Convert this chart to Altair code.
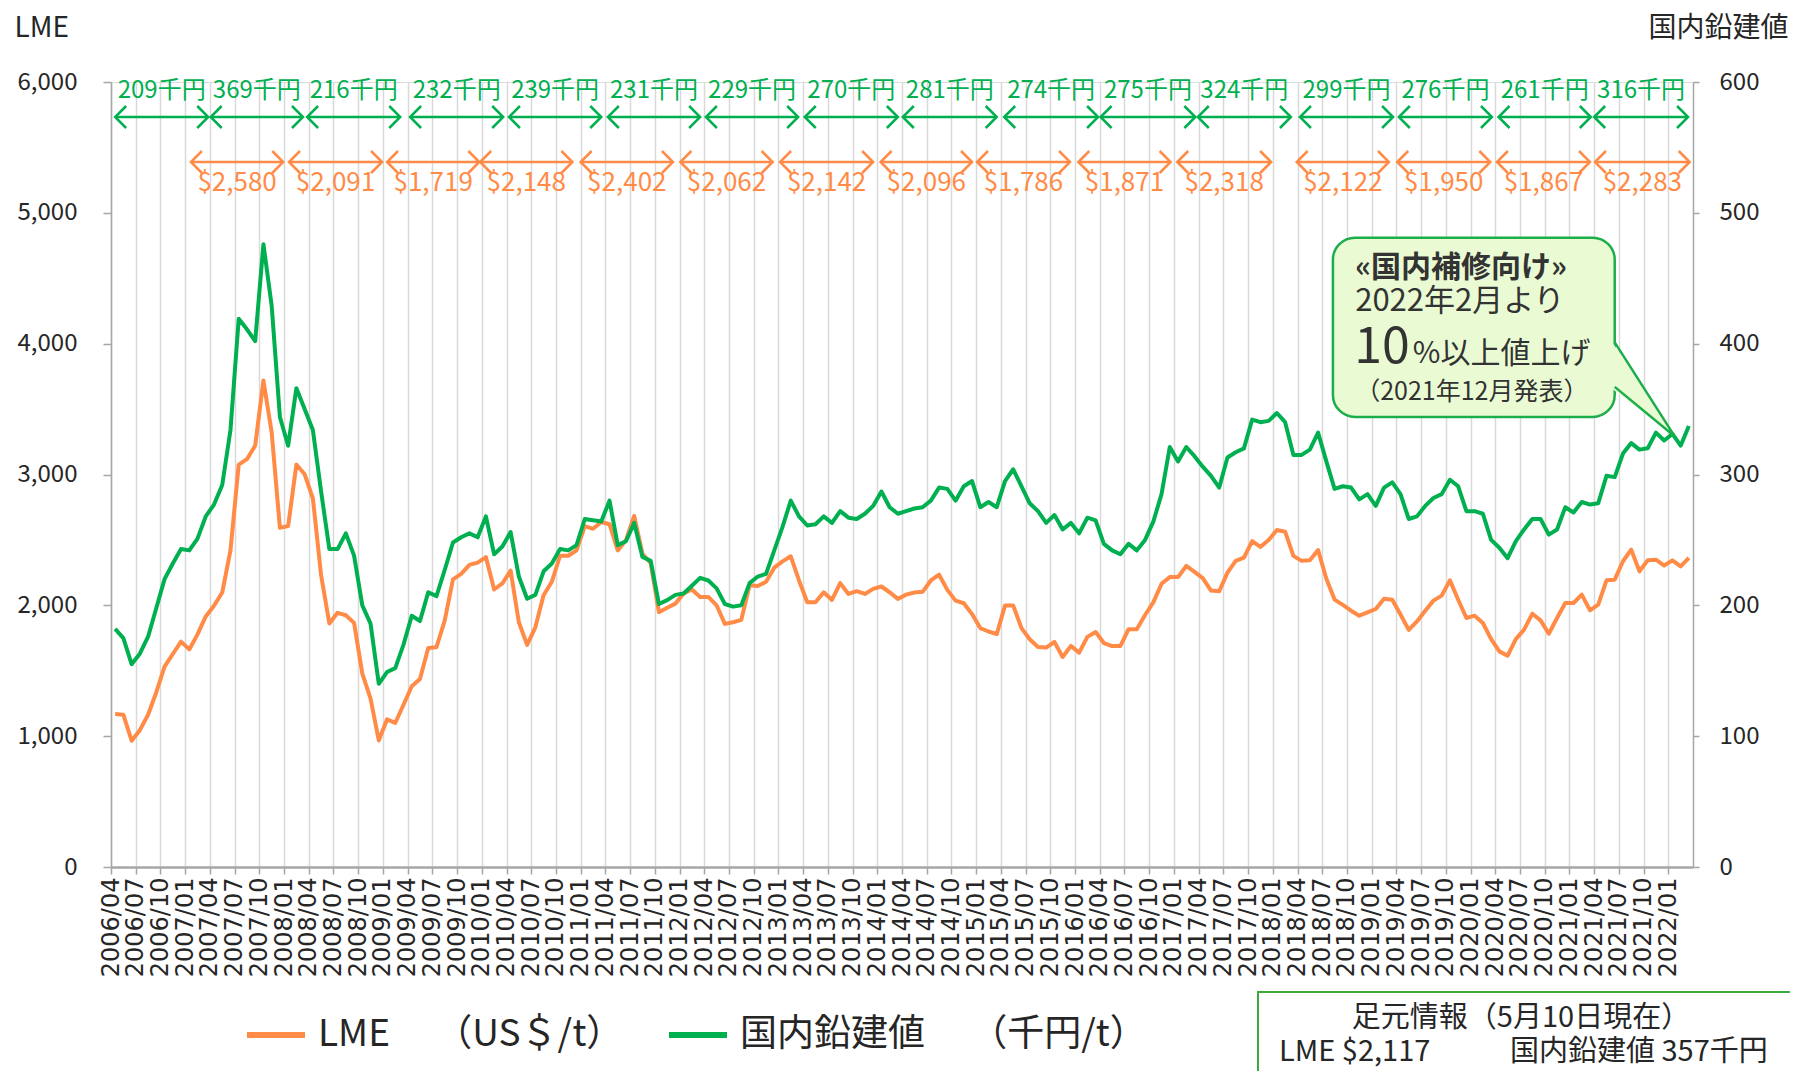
import json
import altair as alt
import pandas as pd

# ---------------- data ----------------
N_MONTHS = 192  # 2006/04 .. 2022/03
months = []
for i in range(N_MONTHS):
    yy = 2006 + (3 + i) // 12
    mm = (3 + i) % 12 + 1
    months.append(f"{yy}/{mm:02d}")
tick_labels = months[::3]  # 2006/04 .. 2022/01

lme = [
    1170, 1164, 965, 1046, 1164, 1336, 1532, 1628, 1723, 1663,
    1778, 1915, 1997, 2098, 2421, 3076, 3117, 3221, 3718, 3322,
    2592, 2606, 3076, 3002, 2817, 2230, 1861, 1943, 1924, 1866,
    1478, 1287, 967, 1128, 1101, 1240, 1382, 1437, 1674, 1680,
    1883, 2198, 2240, 2309, 2327, 2369, 2121, 2167, 2265, 1871,
    1698, 1832, 2077, 2180, 2379, 2379, 2420, 2606, 2585, 2637,
    2620, 2420, 2498, 2683, 2394, 2322, 1948, 1982, 2013, 2090,
    2121, 2064, 2064, 2000, 1858, 1871, 1889, 2154, 2147, 2180,
    2288, 2336, 2375, 2190, 2023, 2023, 2100, 2041, 2170, 2087,
    2108, 2087, 2126, 2144, 2100, 2049, 2082, 2098, 2103, 2190,
    2234, 2118, 2036, 2016, 1933, 1826, 1800, 1780, 1998, 1998,
    1826, 1741, 1682, 1677, 1720, 1605, 1690, 1638, 1759, 1796,
    1712, 1689, 1689, 1818, 1818, 1926, 2023, 2165, 2216, 2216,
    2301, 2255, 2208, 2113, 2108, 2250, 2340, 2365, 2491, 2447,
    2499, 2576, 2563, 2378, 2340, 2345, 2422, 2203, 2044, 2003,
    1959, 1921, 1946, 1972, 2050, 2043, 1930, 1812, 1877, 1959,
    2036, 2074, 2191, 2043, 1903, 1921, 1865, 1742, 1648, 1615,
    1742, 1814, 1936, 1885, 1783, 1903, 2018, 2018, 2082, 1962,
    2005, 2191, 2196, 2337, 2426, 2260, 2344, 2349, 2304, 2344,
    2298, 2362,
]

domestic = [
    182, 175, 155, 163, 176, 198, 220, 232, 243, 242,
    251, 268, 277, 292, 334, 419, 411, 402, 476, 429,
    344, 322, 366, 350, 334, 287, 243, 243, 255, 238,
    200, 186, 140, 149, 152, 170, 192, 188, 210, 207,
    227, 248, 252, 255, 252, 268, 239, 245, 256, 222,
    205, 208, 226, 232, 243, 242, 246, 266, 265, 264,
    280, 246, 249, 263, 237, 234, 201, 204, 208, 209,
    215, 221, 219, 213, 201, 199, 200, 217, 222, 224,
    242, 260, 280, 268, 261, 262, 268, 263, 272, 267,
    266, 270, 276, 287, 275, 270, 272, 274, 275, 280,
    290, 289, 280, 291, 295, 275, 279, 275, 295, 304,
    291, 278, 272, 263, 269, 258, 263, 255, 267, 265,
    247, 242, 239, 247, 242, 250, 264, 285, 321, 310,
    321, 314, 306, 299, 290, 313, 317, 320, 342, 340,
    341, 347, 340, 315, 315, 319, 332, 310, 289, 291,
    290, 281, 285, 276, 290, 294, 285, 266, 268, 276,
    282, 285, 296, 291, 272, 272, 270, 250, 244, 236,
    249, 258, 266, 266, 254, 258, 275, 271, 279, 277,
    278, 299, 298, 316, 324, 319, 320, 332, 326, 331,
    322, 337,
]

green_labels = ["209千円", "369千円", "216千円", "232千円", "239千円", "231千円",
                "229千円", "270千円", "281千円", "274千円", "275千円", "324千円",
                "299千円", "276千円", "261千円", "316千円"]
green_start = [0.5, 12.1, 23.8, 36.3, 48.3, 60.3, 72.2, 84.2, 96.1, 108.4,
               120.1, 131.9, 144.3, 156.3, 168.4, 180.0]
green_end = [11.8, 23.3, 35.1, 47.6, 59.5, 71.5, 83.4, 95.5, 107.5, 119.8,
             131.6, 143.2, 155.6, 167.6, 179.6, 191.4]

orange_labels = ["$2,580", "$2,091", "$1,719", "$2,148", "$2,402", "$2,062",
                 "$2,142", "$2,096", "$1,786", "$1,871", "$2,318", "$2,122",
                 "$1,950", "$1,867", "$2,283"]
orange_start = [9.7, 21.6, 33.5, 44.8, 57.0, 69.1, 81.2, 93.4, 105.1, 117.4,
                129.4, 143.9, 156.1, 168.2, 180.1]
orange_end = [20.9, 32.9, 44.7, 56.0, 68.2, 80.3, 92.5, 104.5, 116.4, 128.6,
              140.8, 155.1, 167.4, 179.5, 191.6]

# ---------------- styles ----------------
JP = "Noto Sans CJK JP"
ORANGE = "#FF8B47"
GREEN = "#00B050"
AXIS_GRAY = "#A6A6A6"
GRID_GRAY = "#D9D9D9"
TEXT = "#262626"
CALLOUT_FILL = "#EAFBD4"
CALLOUT_STROKE = "#1DAE4C"
BOX_GREEN = "#3BAA3B"

LME_NAME = "LME　 （US＄/t）"
DOM_NAME = "国内鉛建値　 （千円/t）"

PLOT_W, PLOT_H = 1582, 785

x_scale = alt.Scale(domain=[0, N_MONTHS], nice=False, zero=False)
yl_scale = alt.Scale(domain=[0, 6000], nice=False)
yr_scale = alt.Scale(domain=[0, 600], nice=False)

df = pd.DataFrame({
    "x": [i + 0.5 for i in range(N_MONTHS)],
    "month": months,
    "lme": lme,
    "domestic": domestic,
})

color_scale = alt.Scale(domain=[LME_NAME, DOM_NAME], range=[ORANGE, GREEN])
legend = alt.Legend(
    title=None, orient="none", legendX=133, legendY=921, direction="horizontal",
    symbolType="stroke", symbolSize=3364, symbolStrokeWidth=6,
    labelFont=JP, labelFontSize=37, labelColor=TEXT, labelLimit=900,
    labelOffset=10, columnPadding=33, padding=0,
)

x_axis = alt.Axis(
    values=list(range(0, 190, 3)),
    labelExpr=f"{json.dumps(tick_labels)}[round(datum.value / 3)]",
    labelAngle=270, labelFont="DejaVu Sans", labelFontSize=24, labelColor=TEXT,
    labelPadding=3, labelOverlap=False, labelFlush=False,
    tickSize=7, tickColor=AXIS_GRAY, tickWidth=1.5,
    domainColor=AXIS_GRAY, domainWidth=2.5,
    grid=True, gridColor=GRID_GRAY, gridWidth=1.5, title=None,
)
left_axis = alt.Axis(
    orient="left", values=[0, 1000, 2000, 3000, 4000, 5000, 6000], format=",.0f",
    labelFont=JP, labelFontSize=24, labelColor=TEXT, labelPadding=26,
    tickSize=8, tickColor=AXIS_GRAY, tickWidth=1.5,
    domainColor=AXIS_GRAY, domainWidth=1.5, grid=False,
    title="LME", titleAngle=0, titleAlign="left", titleBaseline="middle",
    titleX=-97, titleY=-54, titleFont=JP, titleFontSize=28,
    titleFontWeight="normal", titleColor=TEXT,
)
right_axis = alt.Axis(
    orient="right", values=[0, 100, 200, 300, 400, 500, 600], format=".0f",
    labelFont=JP, labelFontSize=24, labelColor=TEXT, labelPadding=20,
    tickSize=6, tickColor=AXIS_GRAY, tickWidth=1.5,
    domainColor=AXIS_GRAY, domainWidth=1.5, grid=False,
    title="国内鉛建値", titleAngle=0, titleAlign="right", titleBaseline="middle",
    titleX=95, titleY=-54, titleFont=JP, titleFontSize=28,
    titleFontWeight="normal", titleColor=TEXT,
)


def X(field):
    return alt.X(field, scale=x_scale, axis=x_axis)


lme_line = alt.Chart(df).transform_calculate(series=f"'{LME_NAME}'").mark_line(
    strokeWidth=4, strokeJoin="round"
).encode(
    x=X("x:Q"),
    y=alt.Y("lme:Q", scale=yl_scale, axis=left_axis),
    color=alt.Color("series:N", scale=color_scale, legend=legend),
)
dom_line = alt.Chart(df).transform_calculate(series=f"'{DOM_NAME}'").mark_line(
    strokeWidth=4, strokeJoin="round"
).encode(
    x=X("x:Q"),
    y=alt.Y("domestic:Q", scale=yr_scale, axis=right_axis),
    color=alt.Color("series:N", scale=color_scale, legend=legend),
)

# ---------------- year average arrows ----------------
gdf = pd.DataFrame({"label": green_labels, "start": green_start, "end": green_end})
gdf["mid"] = (gdf["start"] + gdf["end"]) / 2
odf = pd.DataFrame({"label": orange_labels, "start": orange_start, "end": orange_end})
odf["mid"] = (odf["start"] + odf["end"]) / 2

LEFT_HEAD = "M1,-1L0,0L1,1"
RIGHT_HEAD = "M-1,-1L0,0L-1,1"


def arrow_layers(data, color, y_arrow, y_text, font_size):
    rule = alt.Chart(data).mark_rule(color=color, strokeWidth=2.5).encode(
        x=X("start:Q"), x2="end:Q", y=alt.value(y_arrow)
    )
    lh = alt.Chart(data).mark_point(
        shape=LEFT_HEAD, size=484, filled=False, strokeWidth=2.5, color=color, opacity=1
    ).encode(x=X("start:Q"), y=alt.value(y_arrow))
    rh = alt.Chart(data).mark_point(
        shape=RIGHT_HEAD, size=484, filled=False, strokeWidth=2.5, color=color, opacity=1
    ).encode(x=X("end:Q"), y=alt.value(y_arrow))
    txt = alt.Chart(data).mark_text(
        font=JP, fontSize=font_size, color=color, align="center", baseline="middle"
    ).encode(x=X("mid:Q"), y=alt.value(y_text), text="label:N")
    return [rule, lh, rh, txt]


green_arrows = arrow_layers(gdf, GREEN, 35, 9, 24)
orange_arrows = arrow_layers(odf, ORANGE, 80, 101, 26)

# ---------------- callout ----------------
box_df = pd.DataFrame({"x": [148.3], "x2": [182.5], "y": [481], "y2": [344]})
box = alt.Chart(box_df).mark_rect(
    fill=CALLOUT_FILL, stroke=CALLOUT_STROKE, strokeWidth=2.5, cornerRadius=22
).encode(
    x=X("x:Q"), x2="x2:Q",
    y=alt.Y("y:Q", scale=yr_scale, axis=None), y2="y2:Q",
)
tri_df = pd.DataFrame({"x": [182.1, 189.8], "y": [402, 329], "y2": [366, 329]})
tri = alt.Chart(tri_df).mark_area(color=CALLOUT_FILL, opacity=1).encode(
    x=X("x:Q"),
    y=alt.Y("y:Q", scale=yr_scale, axis=None), y2="y2:Q",
)
ptr_df = pd.DataFrame({"x": [182.5, 189.8, 182.5], "y": [401, 329, 367], "o": [0, 1, 2]})
ptr = alt.Chart(ptr_df).mark_line(color=CALLOUT_STROKE, strokeWidth=2.5).encode(
    x=X("x:Q"),
    y=alt.Y("y:Q", scale=yr_scale, axis=None), order="o:Q",
)


def callout_text(text, x, y, size, weight="normal", baseline="middle"):
    d = pd.DataFrame({"t": [text], "x": [x], "y": [y]})
    return alt.Chart(d).mark_text(
        font=JP, fontSize=size, fontWeight=weight, color="#333333",
        align="left", baseline=baseline,
    ).encode(
        x=X("x:Q"),
        y=alt.Y("y:Q", scale=yr_scale, axis=None), text="t:N",
    )


callout = [
    box, tri, ptr,
    callout_text("«国内補修向け»", 151.0, 458, 30, "bold"),
    callout_text("2022年2月より", 151.0, 432, 31),
    callout_text("10", 150.9, 385, 50, baseline="alphabetic"),
    callout_text("%以上値上げ", 158.0, 385, 30, baseline="alphabetic"),
    callout_text("（2021年12月発表）", 151.0, 363, 25),
]

# ---------------- current info box ----------------
one = pd.DataFrame({"a": [0]})
info_box = alt.Chart(one).mark_rect(
    fillOpacity=0, stroke=BOX_GREEN, strokeWidth=2
).encode(x=alt.value(1147), x2=alt.value(1750), y=alt.value(910), y2=alt.value(1250))


def info_text(text, x, y, align):
    return alt.Chart(pd.DataFrame({"t": [text]})).mark_text(
        font=JP, fontSize=29, color=TEXT, align=align, baseline="middle"
    ).encode(x=alt.value(x), y=alt.value(y), text="t:N")


info = [
    info_box,
    info_text("足元情報（5月10日現在）", 1410, 936, "center"),
    info_text("LME $2,117", 1168, 970, "left"),
    info_text("国内鉛建値 357千円", 1399, 970, "left"),
]

chart = alt.layer(
    lme_line, dom_line, *green_arrows, *orange_arrows, *callout, *info
).resolve_scale(
    y="independent"
).properties(
    width=PLOT_W, height=PLOT_H,
    padding={"left": 103, "top": 74, "right": 97, "bottom": 204},
    autosize=alt.AutoSizeParams(type="none"),
).configure_view(stroke=None).configure(background="white")

chart.save("out.html", embed_options={"renderer": "svg", "actions": False})
